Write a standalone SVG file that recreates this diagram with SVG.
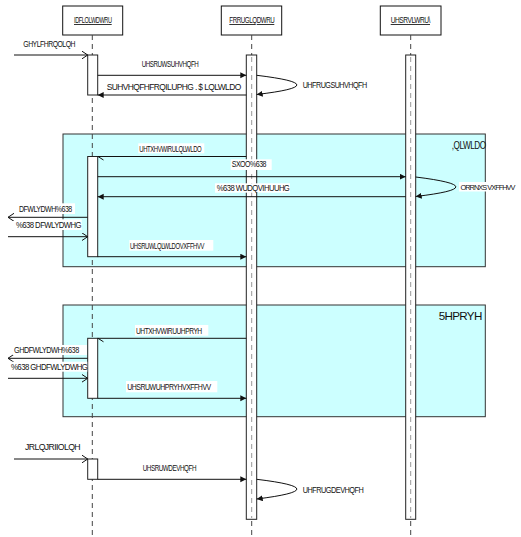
<svg xmlns="http://www.w3.org/2000/svg" width="521" height="537" viewBox="0 0 521 537">
<style>
text{font-family:"Liberation Sans",Arial,sans-serif;font-size:8.5px;fill:#111;letter-spacing:-0.6px}
.hdr{text-decoration:underline}
.box{fill:#fff;stroke:#111;stroke-width:1}
.frag{fill:#ccffff;stroke:#333;stroke-width:1}
.life{stroke:#444;stroke-width:1;stroke-dasharray:5 4}
.lifein{stroke:#999;stroke-width:1;stroke-dasharray:5 4}
.bar{fill:#fff;stroke:#222;stroke-width:1}
.act{fill:#fff;stroke:#222;stroke-width:1}
.msg{stroke:#111;stroke-width:1;fill:none}
.bg{fill:#fff}
.ft{font-size:10.5px}
.edge{font-size:7.8px;letter-spacing:-1px}
</style>
<defs>
<marker id="af" markerUnits="userSpaceOnUse" markerWidth="8" markerHeight="8" refX="6" refY="3" orient="auto">
<path d="M0,0 L6,3 L0,6 z" fill="#111"/>
</marker>
<marker id="ao" markerUnits="userSpaceOnUse" markerWidth="10" markerHeight="10" refX="6" refY="4" orient="auto">
<path d="M0,0 L6,4 L0,8" fill="none" stroke="#111" stroke-width="1"/>
</marker>
</defs>

<g id="frag-initial">
<rect class="frag" x="63" y="134" width="422.3" height="132.7"/>
<text class="ft" x="451.7" y="149" textLength="34" lengthAdjust="spacingAndGlyphs">,QLWLDO</text>
</g>
<g id="frag-remove">
<rect class="frag" x="63" y="305" width="422.3" height="111.7"/>
<text class="ft" x="438.7" y="320" textLength="43" lengthAdjust="spacingAndGlyphs">5HPRYH</text>
</g>

<g id="facilitator">
<rect class="box" x="62.7" y="6" width="60" height="29"/>
<text class="hdr" x="74" y="23" textLength="37.7" lengthAdjust="spacingAndGlyphs">IDFLOLWDWRU</text>
<line class="life" x1="92.3" y1="35" x2="92.3" y2="537"/>
<rect class="act" x="87.7" y="55" width="10" height="40"/>
<rect class="act" x="87.7" y="156.5" width="10" height="100.2"/>
<rect class="act" x="87.7" y="338.3" width="10" height="60"/>
<rect class="act" x="87.7" y="459" width="10" height="20.3"/>
</g>
<g id="coordinator">
<rect class="box" x="221.3" y="6" width="60.4" height="29"/>
<text class="hdr" x="229.3" y="23" textLength="45" lengthAdjust="spacingAndGlyphs">FRRUGLQDWRU</text>
<line class="life" x1="251.7" y1="35" x2="251.7" y2="537"/>
<rect class="bar" x="246.3" y="55" width="10.4" height="464.3"/>
<line class="lifein" x1="251.7" y1="57" x2="251.7" y2="518"/>
</g>
<g id="repository">
<rect class="box" x="380.3" y="6" width="60.7" height="29"/>
<text class="hdr" x="390.7" y="23" textLength="39.3" lengthAdjust="spacingAndGlyphs">UHSRVLWRU\</text>
<line class="life" x1="410.7" y1="35" x2="410.7" y2="537"/>
<rect class="bar" x="405.7" y="55" width="10" height="464.3"/>
<line class="lifein" x1="410.7" y1="57" x2="410.7" y2="518"/>
</g>

<g id="connectors">
<line class="msg" x1="14" y1="55" x2="87.7" y2="55" marker-end="url(#ao)"/>
<line class="msg" x1="97.7" y1="75.3" x2="246.3" y2="75.3" marker-end="url(#af)"/>
<line class="msg" x1="246.3" y1="95" x2="97.7" y2="95" marker-end="url(#af)"/>
<path class="msg" d="M256.7,75.3 Q337,85 256.7,94.5" marker-end="url(#af)"/>

<line class="msg" x1="246.3" y1="156.5" x2="97.7" y2="156.5"/>
<line class="msg" x1="98" y1="156.5" x2="103.5" y2="160"/>
<line class="msg" x1="97.7" y1="176.7" x2="405.7" y2="176.7" marker-end="url(#af)"/>
<line class="msg" x1="405.7" y1="196.7" x2="97.7" y2="196.7" marker-end="url(#af)"/>
<path class="msg" d="M415.7,177 Q496,187 415.7,196.5" marker-end="url(#af)"/>
<line class="msg" x1="87.7" y1="217.3" x2="8" y2="217.3" marker-end="url(#ao)"/>
<line class="msg" x1="8" y1="236.7" x2="87.7" y2="236.7" marker-end="url(#ao)"/>
<line class="msg" x1="97.7" y1="256.7" x2="246.3" y2="256.7" marker-end="url(#af)"/>

<line class="msg" x1="246.3" y1="338.3" x2="97.7" y2="338.3"/>
<line class="msg" x1="98" y1="338.3" x2="103.5" y2="341.8"/>
<line class="msg" x1="87.7" y1="358.3" x2="8" y2="358.3" marker-end="url(#ao)"/>
<line class="msg" x1="8" y1="378.3" x2="87.7" y2="378.3" marker-end="url(#ao)"/>
<line class="msg" x1="97.7" y1="398.3" x2="246.3" y2="398.3" marker-end="url(#af)"/>

<line class="msg" x1="14" y1="459" x2="87.7" y2="459" marker-end="url(#ao)"/>
<line class="msg" x1="97.7" y1="479.3" x2="246.3" y2="479.3" marker-end="url(#af)"/>
<path class="msg" d="M256.7,479.3 Q337,489 256.7,499" marker-end="url(#af)"/>
</g>

<g id="labels">
<text x="23.3" y="46.5" textLength="51.7" lengthAdjust="spacingAndGlyphs">GHYLFHRQOLQH</text>
<text x="141.7" y="66.5" textLength="56.6" lengthAdjust="spacingAndGlyphs">UHSRUWSUHVHQFH</text>
<text x="106.7" y="89.5" textLength="134" lengthAdjust="spacingAndGlyphs">SUHVHQFHFRQILUPHG . $ LQLWLDO</text>
<text x="302.7" y="88" textLength="64" lengthAdjust="spacingAndGlyphs">UHFRUGSUHVHQFH</text>

<rect class="bg" x="138.3" y="143.3" width="66" height="10"/>
<text x="139.3" y="152" textLength="62" lengthAdjust="spacingAndGlyphs">UHTXHVWIRULQLWLDO</text>
<rect class="bg" x="230.7" y="159.3" width="41" height="10.7"/>
<text x="231.7" y="167.3" textLength="34.3" lengthAdjust="spacingAndGlyphs">SXOO%638</text>
<rect class="bg" x="215" y="183.3" width="75" height="9.4"/>
<text x="216.7" y="191.3" textLength="72.6" lengthAdjust="spacingAndGlyphs">%638 WUDQVIHUUHG</text>
<rect class="bg" x="459" y="182" width="60" height="9.5"/>
<text class="edge" x="460.5" y="190" textLength="54" lengthAdjust="spacingAndGlyphs">ORRNXS VXFFHVV</text>
<rect class="bg" x="16.7" y="203.3" width="58.3" height="10.7"/>
<text x="19" y="211.7" textLength="52.7" lengthAdjust="spacingAndGlyphs">DFWLYDWH%638</text>
<rect class="bg" x="15" y="219.3" width="66.7" height="10.7"/>
<text x="16" y="227.7" textLength="65" lengthAdjust="spacingAndGlyphs">%638 DFWLYDWHG</text>
<rect class="bg" x="129.3" y="240" width="84" height="10.7"/>
<text x="130" y="249.3" textLength="74" lengthAdjust="spacingAndGlyphs">UHSRUWLQLWLDOVXFFHVV</text>

<rect class="bg" x="135" y="325" width="73.3" height="10.7"/>
<text x="136" y="334.3" textLength="65.7" lengthAdjust="spacingAndGlyphs">UHTXHVWIRUUHPRYH</text>
<rect class="bg" x="12.7" y="345" width="74.3" height="10"/>
<text x="14" y="353.3" textLength="64.7" lengthAdjust="spacingAndGlyphs">GHDFWLYDWH%638</text>
<rect class="bg" x="10" y="361.7" width="77.3" height="10"/>
<text x="11" y="370" textLength="76.3" lengthAdjust="spacingAndGlyphs">%638 GHDFWLYDWHG</text>
<rect class="bg" x="126" y="381" width="91.3" height="11.3"/>
<text x="127.3" y="390" textLength="83.4" lengthAdjust="spacingAndGlyphs">UHSRUWUHPRYHVXFFHVV</text>

<text x="25" y="450" textLength="55" lengthAdjust="spacingAndGlyphs">JRLQJRIIOLQH</text>
<text x="142.7" y="470.5" textLength="53.3" lengthAdjust="spacingAndGlyphs">UHSRUWDEVHQFH</text>
<text x="302.7" y="492.5" textLength="60.6" lengthAdjust="spacingAndGlyphs">UHFRUGDEVHQFH</text>
</g>
</svg>
